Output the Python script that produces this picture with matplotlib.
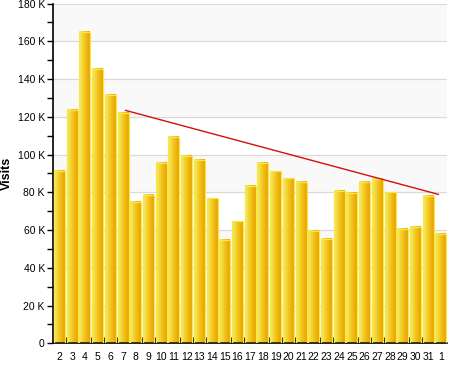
import numpy as np
import matplotlib
matplotlib.use("Agg")
import matplotlib.pyplot as plt
from matplotlib.colors import LinearSegmentedColormap

days = ["2", "3", "4", "5", "6", "7", "8", "9", "10", "11", "12", "13", "14", "15", "16",
        "17", "18", "19", "20", "21", "22", "23", "24", "25", "26", "27", "28", "29", "30", "31", "1"]
visits = [91.3, 123.6, 164.8, 145.2, 131.4, 121.9, 74.9, 78.6, 95.4, 109.3, 99.2, 97.1, 76.8, 54.7, 64.6,
          83.3, 95.4, 91.1, 87.4, 85.3, 59.5, 55.3, 80.7, 79.6, 85.5, 87.0, 80.0, 60.6, 61.6, 78.2, 57.9]
trend_x = [5.2, 29.8]
trend_y = [123.4, 78.9]

plt.rcParams['font.family'] = ['Liberation Sans', 'DejaVu Sans']

fig = plt.figure(figsize=(4.5, 3.75), dpi=100)
ax = fig.add_axes([0.118, 0.0845, 0.876, 0.906])

n = len(visits)

# alternating background bands
for k, lo in enumerate(range(0, 180, 20)):
    if k % 2 == 0:
        ax.axhspan(lo, lo + 20, color="#f9f9f9", zorder=0, lw=0)
for y in range(20, 181, 20):
    ax.axhline(y, color="#dadada", lw=0.9, zorder=1)

cmap = LinearSegmentedColormap.from_list("gold", ["#f5ee6c", "#f2c81e", "#eba000"])
grad = np.linspace(0, 1, 64).reshape(1, -1)
w = 0.86
for i, v in enumerate(visits):
    ax.imshow(grad, cmap=cmap, extent=[i - w / 2, i + w / 2, 0, v],
              aspect="auto", zorder=2, interpolation="bilinear")
    ax.add_patch(plt.Rectangle((i - w / 2, 0), w, v, fill=False,
                               edgecolor="#f7e84a", lw=0.9, zorder=3))
ax.set_xlim(-0.5, n - 0.5)
ax.set_ylim(0, 180)

ax.plot(trend_x, trend_y, color="#d01010", lw=1.0, zorder=4)

for s in ["top", "right"]:
    ax.spines[s].set_visible(False)
ax.spines["left"].set_linewidth(1.2)
ax.spines["bottom"].set_linewidth(1.2)

ax.set_yticks(range(0, 181, 20))
ax.set_yticklabels(["0"] + [f"{v} K" for v in range(20, 181, 20)])
ax.set_yticks(range(10, 180, 20), minor=True)
ax.tick_params(axis="y", which="both", direction="out", length=4, width=1, labelsize=7.5, pad=2)

ax.set_xticks(range(n))
ax.set_xticklabels(days)
ax.set_xticks(np.arange(0.5, n - 0.5, 1), minor=True)
ax.tick_params(axis="x", which="major", length=0, labelsize=7.5, pad=6)
ax.tick_params(axis="x", which="minor", direction="in", length=4, width=1)

ax.set_ylabel("Visits", fontsize=9, fontweight="bold", labelpad=3)

fig.savefig("out.png", dpi=100)
